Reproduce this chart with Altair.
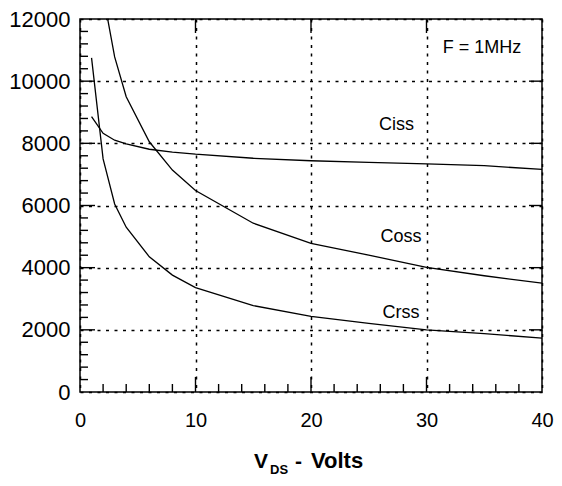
import altair as alt
import pandas as pd

# ---- data ----
x_ciss = [1, 2, 3, 4, 6, 8, 10, 15, 20, 25, 30, 35, 40]
ciss = [8860, 8320, 8100, 7980, 7810, 7720, 7650, 7520, 7440, 7390, 7340, 7280, 7160]

x_coss = [2, 3, 4, 6, 8, 10, 15, 20, 25, 30, 35, 40]
coss = [12800, 10780, 9500, 8050, 7140, 6480, 5430, 4780, 4400, 4010, 3740, 3500]

x_crss = [1, 2, 3, 4, 6, 8, 10, 15, 20, 25, 30, 35, 40]
crss = [10750, 7500, 6050, 5300, 4350, 3760, 3360, 2780, 2430, 2210, 2000, 1880, 1730]

x_tick_labels = [0, 10, 20, 30, 40]
y_tick_labels = [0, 2000, 4000, 6000, 8000, 10000, 12000]
x_minor = [v for v in range(2, 40, 2) if v % 10 != 0]
x_major_inner = [10, 20, 30]
y_minor = [v for v in range(400, 12000, 400) if v % 2000 != 0]
y_major_inner = [2000, 4000, 6000, 8000, 10000]

series_labels = ["Ciss", "Coss", "Crss", "F = 1MHz"]
label_v = [27.4, 27.8, 27.8, 34.8]
label_c = [8590, 4990, 2540, 11070]

FONT = "Liberation Sans"
W, H = 462, 373
XMAX, YMAX = 40, 12000


def px_x(p):
    return p / W * XMAX


def px_y(p):
    return p / H * YMAX


rows = []
for name, xs, ys in [("Ciss", x_ciss, ciss), ("Coss", x_coss, coss), ("Crss", x_crss, crss)]:
    for a, b in zip(xs, ys):
        rows.append({"series": name, "v": a, "c": b})
curves = pd.DataFrame(rows)

X_ENC = alt.X(
    "v:Q",
    scale=alt.Scale(domain=[0, XMAX], nice=False, zero=False),
    axis=alt.Axis(
        values=x_tick_labels, title=None, ticks=False, domain=False, format="d",
        labelFontSize=20, labelFont=FONT, labelColor="black",
        labelPadding=18, labelFlush=False, labelOverlap=False,
        grid=True, gridDash=[3, 5.5], gridColor="black", gridWidth=1.5, gridOpacity=1,
    ),
)
Y_ENC = alt.Y(
    "c:Q",
    scale=alt.Scale(domain=[0, YMAX], nice=False),
    axis=alt.Axis(
        values=y_tick_labels, title=None, ticks=False, domain=False, format="d",
        labelFontSize=22, labelFont=FONT, labelColor="black",
        labelPadding=10, labelFlush=False, labelOverlap=False,
        grid=True, gridDash=[3, 5.5], gridColor="black", gridWidth=1.5, gridOpacity=1,
    ),
)

lines = alt.Chart(curves).mark_line(color="black", strokeWidth=1.3, clip=True).encode(
    x=X_ENC, y=Y_ENC, detail="series:N", order="v:Q"
)

# inner tick marks drawn as two-point line segments
seg_rows = []
k = 0


def add_v(vals, y0, y1):
    global k
    for v in vals:
        seg_rows.append({"id": k, "o": 0, "v": v, "c": y0})
        seg_rows.append({"id": k, "o": 1, "v": v, "c": y1})
        k += 1


def add_h(vals, x0, x1):
    global k
    for c in vals:
        seg_rows.append({"id": k, "o": 0, "v": x0, "c": c})
        seg_rows.append({"id": k, "o": 1, "v": x1, "c": c})
        k += 1


add_v(x_minor, 0, px_y(8))
add_v(x_major_inner, 0, px_y(15))
add_v(x_major_inner, YMAX, YMAX - px_y(14))
add_h(y_minor, 0, px_x(8))
add_h(y_major_inner, 0, px_x(15))
add_h(y_major_inner, XMAX, XMAX - px_x(13))

ticks = alt.Chart(pd.DataFrame(seg_rows)).mark_line(color="black", strokeWidth=1.4).encode(
    x=X_ENC, y=Y_ENC, detail="id:N", order="o:Q"
)

labels = alt.Chart(pd.DataFrame({"v": label_v, "c": label_c, "t": series_labels})).mark_text(
    font=FONT, fontSize=18, color="black", align="center", baseline="middle"
).encode(x=X_ENC, y=Y_ENC, text="t:N")


def title_piece(txt, px, py, size):
    return alt.Chart(pd.DataFrame({"t": [txt]})).mark_text(
        font=FONT, fontSize=size, fontWeight="bold", color="black",
        align="left", baseline="alphabetic"
    ).encode(x=alt.value(px), y=alt.value(py), text="t:N")


t_v = title_piece("V", 174, 449, 21)
t_ds = title_piece("DS", 190, 455, 13)
t_dash = title_piece("-", 215, 449, 21)
t_volts = title_piece("Volts", 231, 449, 22)

chart = alt.layer(
    lines, ticks, labels, t_v, t_ds, t_dash, t_volts
).properties(
    width=W, height=H,
    padding={"left": 72, "top": 11, "right": 12, "bottom": 86},
    autosize=alt.AutoSizeParams(type="none"),
).configure_view(stroke="black", strokeWidth=1.5)

chart.save("out.html", embed_options={"renderer": "svg", "actions": False})
